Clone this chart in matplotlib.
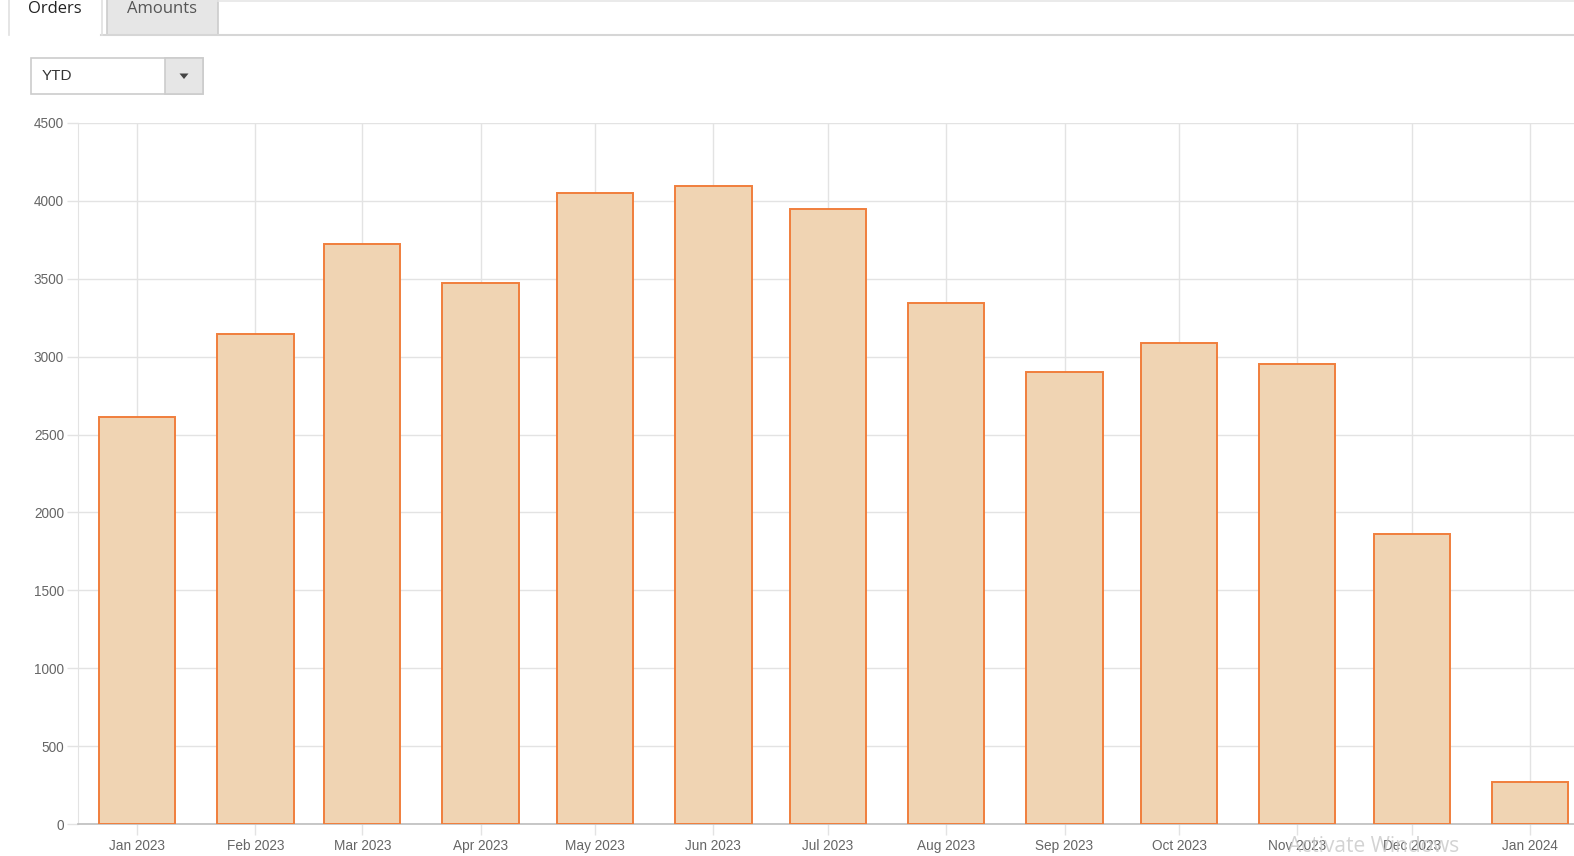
import matplotlib
matplotlib.use("Agg")
import matplotlib.pyplot as plt
import matplotlib.dates as mdates
from matplotlib.patches import Rectangle
from matplotlib.lines import Line2D
import datetime as dt

# ---- data ----
months = ["2023-01", "2023-02", "2023-03", "2023-04", "2023-05", "2023-06", "2023-07",
          "2023-08", "2023-09", "2023-10", "2023-11", "2023-12", "2024-01"]
orders = [2610, 3145, 3725, 3470, 4050, 4095, 3945, 3345, 2900, 3090, 2955, 1860, 270]
y_ticks = [0, 500, 1000, 1500, 2000, 2500, 3000, 3500, 4000, 4500]
tab_labels = ["Orders", "Amounts"]
dropdown_value = "YTD"

dates = [dt.datetime.strptime(m, "%Y-%m") for m in months]

W, H = 1574, 856
fig = plt.figure(figsize=(W / 100, H / 100), dpi=100)
fig.patch.set_facecolor("white")

def fx(px):
    return px / W

def fy(py):
    return 1 - py / H

# ---- axes ----
ax = fig.add_axes([fx(78), fy(824), fx(1574) - fx(78), fy(123) - fy(824)])
ax.bar(dates, orders, width=20, color="#f0d4b3", edgecolor="#f07e3c", linewidth=1.4,
       align="center", zorder=3)

ax.set_ylim(0, 4500)
ax.set_yticks(y_ticks)
ax.set_xlim(dt.datetime(2022, 12, 16, 12), dt.datetime(2024, 1, 12, 12))
ax.xaxis.set_major_locator(mdates.MonthLocator())
ax.xaxis.set_major_formatter(mdates.DateFormatter("%b %Y"))

grid_c = "#e3e3e3"
ax.grid(True, color=grid_c, linewidth=1, zorder=0)
for s in ["top", "right"]:
    ax.spines[s].set_visible(False)
ax.spines["left"].set_color(grid_c)
ax.spines["bottom"].set_color("#bdbdbd")
ax.spines["bottom"].set_linewidth(1.2)
ax.tick_params(axis="both", colors=grid_c, labelcolor="#666666", labelsize=9.8,
               length=8, width=1)
ax.tick_params(axis="y", pad=2)
ax.tick_params(axis="x", pad=3)
for lbl in ax.get_xticklabels() + ax.get_yticklabels():
    lbl.set_family("Liberation Sans")

# ---- tabs ----
ov = fig.add_axes([0, 0, 1, 1], zorder=-1)
ov.set_xlim(0, W)
ov.set_ylim(H, 0)
ov.axis("off")

line_c = "#d6d6d6"
# top line and bottom line of tab bar
ov.add_line(Line2D([218, W], [1, 1], color="#e6e6e6", lw=1.2))
ov.add_line(Line2D([101, W], [35, 35], color=line_c, lw=1.5))
# Orders (active) tab
ov.add_line(Line2D([8.5, 8.5], [0, 35], color="#e0e0e0", lw=1.2))
ov.add_line(Line2D([101.5, 101.5], [0, 35], color="#e0e0e0", lw=1.2))
ov.text(55, 9, tab_labels[0], ha="center", va="center", fontsize=12,
        family="Open Sans", color="#222222")
# Amounts tab
ov.add_patch(Rectangle((107, -2), 111, 37, facecolor="#e6e6e6", edgecolor="#cccccc", lw=1.2))
ov.text(162, 9, tab_labels[1], ha="center", va="center", fontsize=12,
        family="Open Sans", color="#555555")

# ---- dropdown ----
ov.add_patch(Rectangle((31, 58), 172, 36, facecolor="white", edgecolor="#cccccc", lw=1.2))
ov.add_patch(Rectangle((165, 58), 38, 36, facecolor="#e6e6e6", edgecolor="#cccccc", lw=1.2))
ov.text(42, 76, dropdown_value, ha="left", va="center", fontsize=11,
        family="Liberation Sans", color="#333333")
ov.add_patch(plt.Polygon([[179.5, 73.5], [188.5, 73.5], [184, 79]], closed=True,
                         facecolor="#444444", edgecolor="none"))

# watermark overlay
fig.text(fx(1288), fy(846), "Activate Windows", fontsize=15, color="#c8c8c8",
         family="Open Sans", ha="left", va="center", alpha=0.8)

fig.savefig("out.png", dpi=100, facecolor="white")
